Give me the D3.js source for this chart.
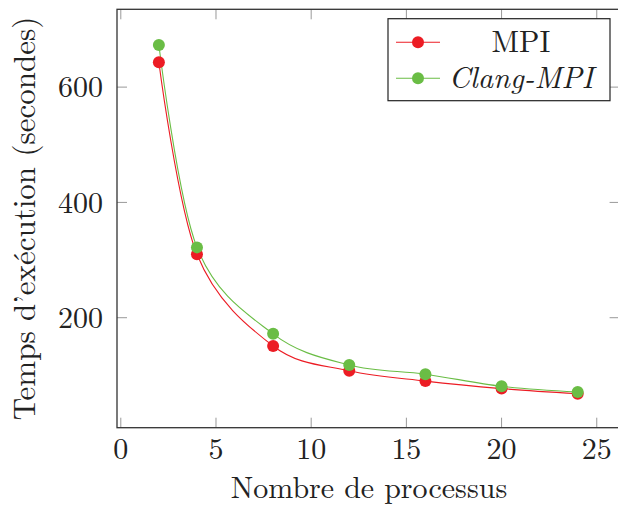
<!DOCTYPE html>
<meta charset="utf-8">
<style>
  body { margin: 0; background: white; }
  svg text { font-family: "Latin Modern Roman", "CMU Serif", "Liberation Serif", serif; fill: #222; }
</style>
<svg width="618" height="506"></svg>
<script src="https://cdn.jsdelivr.net/npm/d3@7"></script>
<script>
  // données
  var processus = [2, 4, 8, 12, 16, 20, 24];
  var tempsMPI = [643, 310, 151, 108, 90, 77, 68];
  var tempsClang = [673, 322, 172, 118, 102, 81, 71];
  var xTicks = [0, 5, 10, 15, 20, 25];
  var yTicks = [200, 400, 600];
  var series = [
    {name: "MPI", values: tempsMPI, color: "#ec1c24", italic: false},
    {name: "Clang-MPI", values: tempsClang, color: "#6abd45", italic: true}
  ];

  var svg = d3.select("svg");
  var margin = {top: 9.3, right: -1.6, bottom: 78.3, left: 117};
  var width = +svg.attr("width") - margin.left - margin.right;
  var height = +svg.attr("height") - margin.top - margin.bottom;

  var x = d3.scaleLinear().domain([-0.2, 26.2]).range([0, width]);
  var y = d3.scaleLinear().domain([9.2, 735]).range([height, 0]);

  var g = svg.append("g").attr("transform", "translate(" + margin.left + "," + margin.top + ")");

  // ticks intérieurs sur les quatre côtés
  var tickLen = 10;
  var ticks = g.append("g").attr("stroke", "#999").attr("stroke-width", 1);
  xTicks.forEach(function(t) {
    ticks.append("line").attr("x1", x(t)).attr("x2", x(t)).attr("y1", height).attr("y2", height - tickLen);
    ticks.append("line").attr("x1", x(t)).attr("x2", x(t)).attr("y1", 0).attr("y2", tickLen);
  });
  yTicks.forEach(function(t) {
    ticks.append("line").attr("x1", 0).attr("x2", tickLen).attr("y1", y(t)).attr("y2", y(t));
    ticks.append("line").attr("x1", width).attr("x2", width - tickLen).attr("y1", y(t)).attr("y2", y(t));
  });

  // labels des graduations
  g.append("g").selectAll("text").data(xTicks).enter().append("text")
    .attr("x", function(d) { return x(d); })
    .attr("y", height + 31)
    .attr("text-anchor", "middle")
    .attr("font-size", 30)
    .text(function(d) { return d; });

  g.append("g").selectAll("text").data(yTicks).enter().append("text")
    .attr("x", -14)
    .attr("y", function(d) { return y(d); })
    .attr("dy", "0.34em")
    .attr("text-anchor", "end")
    .attr("font-size", 30)
    .text(function(d) { return d; });

  // courbes lissées
  var line = d3.line()
    .x(function(d, i) { return x(processus[i]); })
    .y(function(d) { return y(d); })
    .curve(d3.curveCardinal);

  series.forEach(function(s) {
    g.append("path")
      .attr("d", line(s.values))
      .attr("fill", "none")
      .attr("stroke", s.color)
      .attr("stroke-width", 1.1);
  });
  series.forEach(function(s) {
    g.append("g").selectAll("circle").data(s.values).enter().append("circle")
      .attr("cx", function(d, i) { return x(processus[i]); })
      .attr("cy", function(d) { return y(d); })
      .attr("r", 6)
      .attr("fill", s.color);
  });

  // cadre
  g.append("rect")
    .attr("width", width).attr("height", height)
    .attr("fill", "none").attr("stroke", "#333").attr("stroke-width", 1.3);

  // légende
  var lg = svg.append("g").attr("transform", "translate(388,18.7)");
  lg.append("rect").attr("width", 222).attr("height", 82)
    .attr("fill", "white").attr("stroke", "#222").attr("stroke-width", 1.2);
  series.forEach(function(s, i) {
    var yy = 23.5 + i * 36;
    lg.append("line").attr("x1", 8).attr("x2", 52).attr("y1", yy).attr("y2", yy)
      .attr("stroke", s.color).attr("stroke-width", 1.1);
    lg.append("circle").attr("cx", 30).attr("cy", yy).attr("r", 6).attr("fill", s.color);
    lg.append("text")
      .attr("x", 133).attr("y", yy + 9.5)
      .attr("text-anchor", "middle")
      .attr("font-size", 30)
      .attr("font-style", s.italic ? "italic" : "normal")
      .text(s.name);
  });

  // titres des axes
  svg.append("text")
    .attr("x", 369).attr("y", 498)
    .attr("text-anchor", "middle")
    .attr("font-size", 30)
    .text("Nombre de processus");

  svg.append("text")
    .attr("transform", "translate(35," + (margin.top + height / 2) + ") rotate(-90)")
    .attr("text-anchor", "middle")
    .attr("font-size", 31)
    .text("Temps d’exécution (secondes)");
</script>
